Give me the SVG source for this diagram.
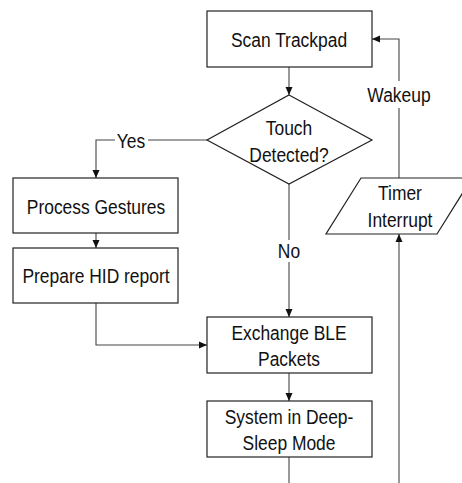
<svg xmlns="http://www.w3.org/2000/svg" width="462" height="483" viewBox="0 0 462 483">
  <style>
    .box{fill:#fff;stroke:#222;stroke-width:1.2}
    .ln{fill:none;stroke:#444;stroke-width:1.1}
    .t{font-family:"Liberation Sans",Arial,sans-serif;font-size:21px;text-anchor:middle;fill:#111}
  </style>
  <defs>
    <marker id="ah" markerWidth="8" markerHeight="8" refX="8" refY="4" orient="auto" markerUnits="userSpaceOnUse">
      <path d="M0,0.5 L8,4 L0,7.5 Z" fill="#111"/>
    </marker>
  </defs>
  <rect width="462" height="483" fill="#fff"/>
  <g id="connectors">
    <path class="ln" d="M289,67 V95" marker-end="url(#ah)"/>
    <path class="ln" d="M207,140 H96 V178" marker-end="url(#ah)"/>
    <path class="ln" d="M96,233 V248" marker-end="url(#ah)"/>
    <path class="ln" d="M96,303 V345 H207" marker-end="url(#ah)"/>
    <path class="ln" d="M289,184 V317" marker-end="url(#ah)"/>
    <path class="ln" d="M289,373 V401" marker-end="url(#ah)"/>
    <path class="ln" d="M289,457 V483"/>
    <path class="ln" d="M399,483 V234" marker-end="url(#ah)"/>
    <path class="ln" d="M399,178 V39 H372" marker-end="url(#ah)"/>
    <rect x="115" y="128" width="33" height="22" fill="#fff"/>
    <text class="t" transform="translate(131,147.5) scale(0.83,1)">Yes</text>
    <rect x="277" y="240" width="24" height="22" fill="#fff"/>
    <text class="t" transform="translate(289,258) scale(0.83,1)">No</text>
    <rect x="366" y="81" width="66" height="27" fill="#fff"/>
    <text class="t" transform="translate(399,101.5) scale(0.83,1)">Wakeup</text>
  </g>
  <g id="scan">
    <rect class="box" x="207" y="11" width="165" height="56"/>
    <text class="t" transform="translate(289,46.5) scale(0.83,1)">Scan Trackpad</text>
  </g>
  <g id="touch">
    <polygon class="box" points="289,95 372,140 289,184 207,140"/>
    <text class="t" transform="translate(289,135) scale(0.83,1)">Touch</text>
    <text class="t" transform="translate(289,161.5) scale(0.83,1)">Detected?</text>
  </g>
  <g id="process">
    <rect class="box" x="13" y="178" width="165" height="55"/>
    <text class="t" transform="translate(96,213.5) scale(0.83,1)">Process Gestures</text>
  </g>
  <g id="prepare">
    <rect class="box" x="13" y="248" width="165" height="55"/>
    <text class="t" transform="translate(96,282.5) scale(0.83,1)">Prepare HID report</text>
  </g>
  <g id="exchange">
    <rect class="box" x="207" y="317" width="165" height="56"/>
    <text class="t" transform="translate(289,340) scale(0.83,1)">Exchange BLE</text>
    <text class="t" transform="translate(289,365.5) scale(0.83,1)">Packets</text>
  </g>
  <g id="sleep">
    <rect class="box" x="207" y="401" width="165" height="56"/>
    <text class="t" transform="translate(289,424) scale(0.83,1)">System in Deep-</text>
    <text class="t" transform="translate(289,450) scale(0.83,1)">Sleep Mode</text>
  </g>
  <g id="timer">
    <polygon class="box" points="361,178 472,178 437,234 326,234"/>
    <text class="t" transform="translate(400,200) scale(0.83,1)">Timer</text>
    <text class="t" transform="translate(400,226.5) scale(0.83,1)">Interrupt</text>
  </g>
</svg>
